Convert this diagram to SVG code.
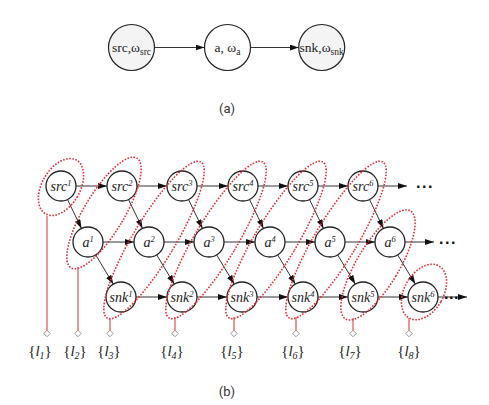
<svg xmlns="http://www.w3.org/2000/svg" width="489" height="405" viewBox="0 0 489 405">
<defs>
<marker id="ah" markerWidth="9" markerHeight="6" refX="9" refY="3" orient="auto" markerUnits="userSpaceOnUse">
<path d="M0,0 L9,3 L0,6 z" fill="#111"/>
</marker>
<style>
.bg{fill:#fff}
.tn circle{stroke:#222;stroke-width:1.2}
.tt{font-family:"Liberation Serif",serif;font-size:13.5px;text-anchor:middle;fill:#222}
.ts{font-size:9.5px}
.node circle{fill:#fff;stroke:#222;stroke-width:1.3}
.lbl{font-family:"Liberation Serif",serif;font-style:italic;font-size:14px;text-anchor:middle;fill:#222}
.sup{font-size:8.5px}
.edge{stroke:#333;stroke-width:1;fill:none;marker-end:url(#ah)}
.grp{fill:none;stroke:#e0303a;stroke-width:1.6;stroke-dasharray:1.6 1.5}
.lead{stroke:#e05050;stroke-width:1.2}
.tip{fill:#fff;stroke:#888;stroke-width:0.8}
.set{font-family:"Liberation Serif",serif;font-size:15px;text-anchor:middle;fill:#222}
.cap{font-family:Roboto,"Liberation Sans",sans-serif;font-size:13px;text-anchor:middle;fill:#333}
.dots{font-family:"Liberation Sans",sans-serif;font-size:16px;font-weight:bold;letter-spacing:1.5px;fill:#111}
</style>
</defs>
<rect class="bg" width="489" height="405"/>

<!-- (a) -->
<g id="a-edges">
<line class="edge" x1="154.5" y1="47.5" x2="204.5" y2="47.5"/>
<line class="edge" x1="250.5" y1="47.5" x2="298.7" y2="47.5"/>
</g>
<g id="a-src" class="tn"><circle cx="131.5" cy="47.5" r="23" fill="#f4f4f4"/><text class="tt" x="131.5" y="52">src,ω<tspan class="ts" dy="3">src</tspan></text></g>
<g id="a-a" class="tn"><circle cx="227.5" cy="47.5" r="23" fill="#fff"/><text class="tt" x="227.5" y="52">a, ω<tspan class="ts" dy="3">a</tspan></text></g>
<g id="a-snk" class="tn"><circle cx="321.7" cy="47.5" r="23" fill="#f4f4f4"/><text class="tt" x="321.7" y="52">snk,ω<tspan class="ts" dy="3">snk</tspan></text></g>
<text class="cap" x="227" y="113">(a)</text>

<!-- (b) connectors -->
<g id="connectors">
<line class="edge" x1="76" y1="186" x2="107" y2="186"/>
<line class="edge" x1="137" y1="186" x2="167" y2="186"/>
<line class="edge" x1="197" y1="186" x2="228" y2="186"/>
<line class="edge" x1="258" y1="186" x2="288" y2="186"/>
<line class="edge" x1="318" y1="186" x2="348" y2="186"/>
<line class="edge" x1="378" y1="186" x2="407" y2="186"/>
<line class="edge" x1="103" y1="242" x2="134" y2="242"/>
<line class="edge" x1="164" y1="242" x2="194" y2="242"/>
<line class="edge" x1="224" y1="242" x2="255" y2="242"/>
<line class="edge" x1="285" y1="242" x2="315" y2="242"/>
<line class="edge" x1="345" y1="242" x2="375" y2="242"/>
<line class="edge" x1="405" y1="242" x2="434" y2="242"/>
<line class="edge" x1="136" y1="297" x2="167" y2="297"/>
<line class="edge" x1="197" y1="297" x2="227" y2="297"/>
<line class="edge" x1="257" y1="297" x2="288" y2="297"/>
<line class="edge" x1="318" y1="297" x2="348" y2="297"/>
<line class="edge" x1="378" y1="297" x2="408" y2="297"/>
<line class="edge" x1="438" y1="297" x2="467" y2="297"/>
<line class="edge" x1="67.5" y1="199.5" x2="81.5" y2="228.5"/>
<line class="edge" x1="128.5" y1="199.5" x2="142.5" y2="228.5"/>
<line class="edge" x1="188.5" y1="199.5" x2="202.5" y2="228.5"/>
<line class="edge" x1="249.5" y1="199.5" x2="263.5" y2="228.5"/>
<line class="edge" x1="309.5" y1="199.5" x2="323.5" y2="228.5"/>
<line class="edge" x1="369.5" y1="199.5" x2="383.5" y2="228.5"/>
<line class="edge" x1="95.7" y1="254.9" x2="113.3" y2="284.1"/>
<line class="edge" x1="156.7" y1="254.9" x2="174.3" y2="284.1"/>
<line class="edge" x1="216.7" y1="254.9" x2="234.3" y2="284.1"/>
<line class="edge" x1="277.7" y1="254.9" x2="295.3" y2="284.1"/>
<line class="edge" x1="337.7" y1="254.9" x2="355.3" y2="284.1"/>
<line class="edge" x1="397.7" y1="254.9" x2="415.3" y2="284.1"/>
</g>
<text class="dots" x="416" y="188">...</text>
<text class="dots" x="439" y="244">...</text>
<text class="dots" x="444" y="298.5" style="letter-spacing:0.6px">...</text>

<!-- (b) nodes -->
<g id="src1" class="node"><circle cx="61" cy="186" r="15"/><text class="lbl" x="61" y="191">src<tspan class="sup" dy="-5">1</tspan></text></g>
<g id="src2" class="node"><circle cx="122" cy="186" r="15"/><text class="lbl" x="122" y="191">src<tspan class="sup" dy="-5">2</tspan></text></g>
<g id="src3" class="node"><circle cx="182" cy="186" r="15"/><text class="lbl" x="182" y="191">src<tspan class="sup" dy="-5">3</tspan></text></g>
<g id="src4" class="node"><circle cx="243" cy="186" r="15"/><text class="lbl" x="243" y="191">src<tspan class="sup" dy="-5">4</tspan></text></g>
<g id="src5" class="node"><circle cx="303" cy="186" r="15"/><text class="lbl" x="303" y="191">src<tspan class="sup" dy="-5">5</tspan></text></g>
<g id="src6" class="node"><circle cx="363" cy="186" r="15"/><text class="lbl" x="363" y="191">src<tspan class="sup" dy="-5">6</tspan></text></g>
<g id="a1" class="node"><circle cx="88" cy="242" r="15"/><text class="lbl" x="88" y="247">a<tspan class="sup" dy="-5">1</tspan></text></g>
<g id="a2" class="node"><circle cx="149" cy="242" r="15"/><text class="lbl" x="149" y="247">a<tspan class="sup" dy="-5">2</tspan></text></g>
<g id="a3" class="node"><circle cx="209" cy="242" r="15"/><text class="lbl" x="209" y="247">a<tspan class="sup" dy="-5">3</tspan></text></g>
<g id="a4" class="node"><circle cx="270" cy="242" r="15"/><text class="lbl" x="270" y="247">a<tspan class="sup" dy="-5">4</tspan></text></g>
<g id="a5" class="node"><circle cx="330" cy="242" r="15"/><text class="lbl" x="330" y="247">a<tspan class="sup" dy="-5">5</tspan></text></g>
<g id="a6" class="node"><circle cx="390" cy="242" r="15"/><text class="lbl" x="390" y="247">a<tspan class="sup" dy="-5">6</tspan></text></g>
<g id="snk1" class="node"><circle cx="121" cy="297" r="15"/><text class="lbl" x="121" y="302">snk<tspan class="sup" dy="-5">1</tspan></text></g>
<g id="snk2" class="node"><circle cx="182" cy="297" r="15"/><text class="lbl" x="182" y="302">snk<tspan class="sup" dy="-5">2</tspan></text></g>
<g id="snk3" class="node"><circle cx="242" cy="297" r="15"/><text class="lbl" x="242" y="302">snk<tspan class="sup" dy="-5">3</tspan></text></g>
<g id="snk4" class="node"><circle cx="303" cy="297" r="15"/><text class="lbl" x="303" y="302">snk<tspan class="sup" dy="-5">4</tspan></text></g>
<g id="snk5" class="node"><circle cx="363" cy="297" r="15"/><text class="lbl" x="363" y="302">snk<tspan class="sup" dy="-5">5</tspan></text></g>
<g id="snk6" class="node"><circle cx="423" cy="297" r="15"/><text class="lbl" x="423" y="302">snk<tspan class="sup" dy="-5">6</tspan></text></g>

<!-- groups l1..l8 -->
<g id="l1">
<ellipse class="grp" cx="61" cy="187" rx="19" ry="31" transform="rotate(30 61 187)"/>
<line class="lead" x1="47" y1="216" x2="47" y2="333"/>
<rect class="tip" x="-2.3" y="-2.3" width="4.6" height="4.6" transform="translate(47 333.5) rotate(45)"/>
<text class="set" x="40" y="356">{<tspan font-style="italic">l</tspan><tspan font-style="italic" font-size="10" dy="3">1</tspan><tspan dy="-3">}</tspan></text>
</g>
<g id="l2">
<ellipse class="grp" cx="104" cy="213" rx="20" ry="64" transform="rotate(31 104 213)"/>
<line class="lead" x1="78" y1="267" x2="78" y2="333"/>
<rect class="tip" x="-2.3" y="-2.3" width="4.6" height="4.6" transform="translate(78 333.5) rotate(45)"/>
<text class="set" x="75" y="356">{<tspan font-style="italic">l</tspan><tspan font-style="italic" font-size="10" dy="3">2</tspan><tspan dy="-3">}</tspan></text>
</g>
<g id="l3">
<ellipse class="grp" cx="154" cy="240" rx="21" ry="91" transform="rotate(31 154 240)"/>
<line class="lead" x1="110" y1="318" x2="110" y2="333"/>
<rect class="tip" x="-2.3" y="-2.3" width="4.6" height="4.6" transform="translate(110 333.5) rotate(45)"/>
<text class="set" x="109" y="356">{<tspan font-style="italic">l</tspan><tspan font-style="italic" font-size="10" dy="3">3</tspan><tspan dy="-3">}</tspan></text>
</g>
<g id="l4">
<ellipse class="grp" cx="216" cy="240" rx="21" ry="91" transform="rotate(31 216 240)"/>
<line class="lead" x1="175" y1="317" x2="175" y2="333"/>
<rect class="tip" x="-2.3" y="-2.3" width="4.6" height="4.6" transform="translate(175 333.5) rotate(45)"/>
<text class="set" x="172" y="356">{<tspan font-style="italic">l</tspan><tspan font-style="italic" font-size="10" dy="3">4</tspan><tspan dy="-3">}</tspan></text>
</g>
<g id="l5">
<ellipse class="grp" cx="276" cy="240" rx="21" ry="91" transform="rotate(31 276 240)"/>
<line class="lead" x1="234" y1="317" x2="234" y2="333"/>
<rect class="tip" x="-2.3" y="-2.3" width="4.6" height="4.6" transform="translate(234 333.5) rotate(45)"/>
<text class="set" x="232" y="356">{<tspan font-style="italic">l</tspan><tspan font-style="italic" font-size="10" dy="3">5</tspan><tspan dy="-3">}</tspan></text>
</g>
<g id="l6">
<ellipse class="grp" cx="336" cy="240" rx="21" ry="91" transform="rotate(31 336 240)"/>
<line class="lead" x1="296" y1="317" x2="296" y2="333"/>
<rect class="tip" x="-2.3" y="-2.3" width="4.6" height="4.6" transform="translate(296 333.5) rotate(45)"/>
<text class="set" x="293" y="356">{<tspan font-style="italic">l</tspan><tspan font-style="italic" font-size="10" dy="3">6</tspan><tspan dy="-3">}</tspan></text>
</g>
<g id="l7">
<ellipse class="grp" cx="378" cy="265" rx="21" ry="63" transform="rotate(31 378 265)"/>
<line class="lead" x1="353" y1="318" x2="353" y2="333"/>
<rect class="tip" x="-2.3" y="-2.3" width="4.6" height="4.6" transform="translate(353 333.5) rotate(45)"/>
<text class="set" x="350" y="356">{<tspan font-style="italic">l</tspan><tspan font-style="italic" font-size="10" dy="3">7</tspan><tspan dy="-3">}</tspan></text>
</g>
<g id="l8">
<ellipse class="grp" cx="424" cy="292" rx="19.5" ry="30" transform="rotate(30 424 292)"/>
<line class="lead" x1="409" y1="318" x2="409" y2="333"/>
<rect class="tip" x="-2.3" y="-2.3" width="4.6" height="4.6" transform="translate(409 333.5) rotate(45)"/>
<text class="set" x="409" y="356">{<tspan font-style="italic">l</tspan><tspan font-style="italic" font-size="10" dy="3">8</tspan><tspan dy="-3">}</tspan></text>
</g>
<text class="cap" x="227" y="396">(b)</text>
</svg>
